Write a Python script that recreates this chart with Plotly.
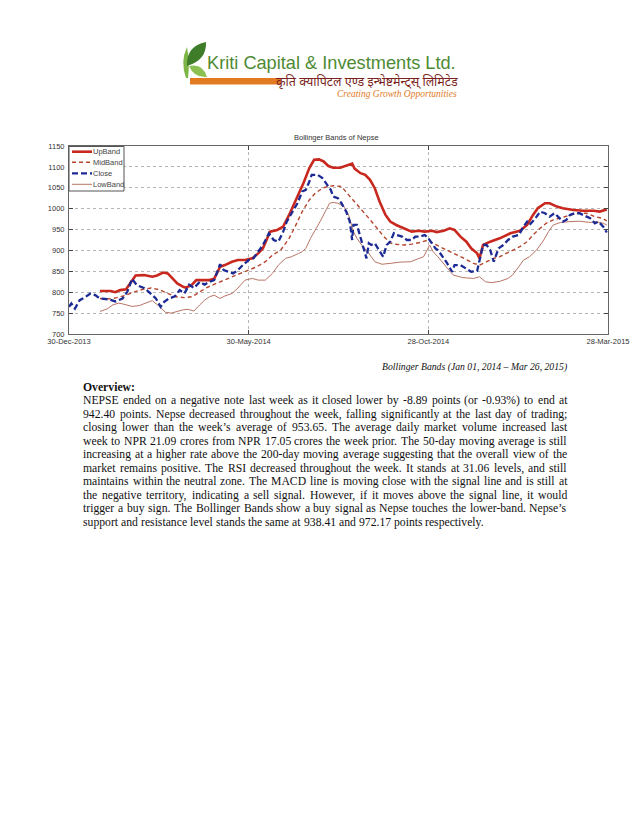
import pandas as pd
import plotly.graph_objects as go

# ---------------- data ----------------
START_DATE = "2013-12-30"

close_day = [0, 2, 5, 7, 9, 14, 18, 22, 26, 33,
             39, 45, 49, 53, 57, 63, 67, 73, 77, 80,
             84, 89, 93, 97, 101, 105, 110, 114, 118, 122,
             127, 130, 134, 138, 142, 146, 151, 155, 159, 163,
             168, 172, 176, 180, 183, 187, 192, 196, 199, 202,
             204, 209, 213, 217, 220, 222, 226, 229, 233, 236,
             238, 239, 242, 246, 250, 252, 254, 257, 261, 264,
             267, 270, 273, 275, 280, 284, 288, 291, 295, 299,
             302, 305, 308, 310, 313, 317, 322, 324, 329, 334,
             338, 343, 345, 348, 351, 354, 357, 361, 365, 369,
             373, 378, 382, 385, 387, 392, 396, 400, 404, 408,
             411, 415, 418, 421, 425, 429, 432, 435, 438, 442,
             445, 449, 452]
close_val = [765, 773, 761, 773, 781, 789, 797, 793, 785, 783,
             778, 785, 801, 832, 817, 810, 801, 785, 765, 777,
             785, 790, 805, 797, 818, 810, 825, 818, 825, 829,
             867, 853, 849, 845, 853, 865, 877, 881, 897, 913,
             941, 925, 921, 945, 969, 989, 1013, 1041, 1045, 1065,
             1081, 1081, 1073, 1057, 1045, 1029, 1025, 1013, 993, 969,
             925, 961, 961, 921, 881, 917, 913, 917, 897, 885,
             913, 921, 941, 937, 933, 925, 925, 933, 933, 937,
             929, 917, 905, 901, 889, 873, 849, 865, 865, 857,
             849, 851, 877, 913, 913, 901, 873, 905, 913, 925,
             933, 937, 957, 969, 961, 977, 993, 989, 981, 989,
             981, 969, 973, 985, 989, 989, 985, 981, 977, 965,
             969, 957, 943]

up_day = [26, 35, 39, 43, 48, 52, 56, 63, 70, 74,
          79, 83, 87, 91, 96, 98, 103, 107, 113, 118,
          122, 127, 131, 137, 142, 148, 154, 159, 163, 169,
          175, 180, 185, 189, 193, 197, 202, 206, 210, 214,
          218, 222, 228, 233, 238, 240, 245, 249, 253, 257,
          261, 266, 270, 275, 281, 288, 294, 299, 305, 309,
          315, 320, 324, 329, 334, 338, 343, 345, 348, 354,
          362, 371, 379, 385, 390, 394, 400, 404, 410, 415,
          424, 432, 441, 446, 452]
up_val = [803, 803, 800, 805, 807, 825, 840, 841, 837, 840,
          847, 845, 833, 821, 813, 811, 817, 829, 829, 829,
          832, 861, 865, 873, 877, 877, 881, 893, 905, 945,
          949, 957, 985, 1009, 1033, 1061, 1097, 1117, 1118, 1113,
          1102, 1098, 1098, 1103, 1108, 1096, 1085, 1081, 1069, 1049,
          1017, 985, 969, 961, 953, 945, 947, 945, 947, 944,
          947, 953, 949, 933, 921, 905, 893, 881, 913, 921,
          929, 941, 947, 961, 985, 1001, 1013, 1013, 1005, 1001,
          997, 995, 995, 993, 998]

mid_day = [26, 35, 40, 48, 55, 62, 69, 76, 83, 90,
           97, 103, 108, 115, 122, 130, 137, 144, 151, 158,
           165, 171, 178, 185, 190, 196, 202, 207, 213, 217,
           222, 229, 235, 240, 246, 252, 259, 264, 270, 274,
           281, 288, 295, 302, 306, 312, 317, 323, 329, 334,
           340, 345, 351, 357, 362, 368, 373, 379, 385, 390,
           396, 401, 407, 413, 418, 427, 435, 442, 448, 452]
mid_val = [785, 784, 787, 793, 801, 807, 810, 806, 797, 789,
           787, 789, 797, 810, 819, 829, 837, 845, 853, 861,
           873, 889, 901, 929, 957, 993, 1021, 1037, 1049, 1053,
           1055, 1053, 1033, 1017, 997, 977, 953, 935, 918, 915,
           913, 915, 919, 925, 917, 909, 901, 894, 886, 878,
           869, 865, 873, 881, 885, 893, 901, 909, 921, 937,
           953, 965, 973, 978, 982, 989, 989, 981, 977, 971]

low_day = [26, 32, 37, 42, 48, 53, 59, 64, 70, 76,
           81, 86, 91, 96, 100, 105, 110, 114, 118, 122,
           127, 131, 137, 142, 148, 154, 159, 165, 171, 176,
           182, 187, 193, 196, 199, 203, 211, 219, 222, 226,
           231, 235, 239, 242, 246, 252, 257, 263, 270, 278,
           287, 294, 298, 301, 303, 306, 310, 317, 323, 331,
           340, 345, 350, 355, 362, 369, 373, 378, 382, 387,
           393, 399, 403, 407, 413, 421, 429, 438, 443, 449,
           452]
low_val = [754, 760, 770, 774, 770, 766, 768, 774, 780, 766,
           752, 750, 754, 758, 759, 755, 770, 781, 789, 793,
           785, 791, 797, 810, 829, 833, 829, 829, 845, 865,
           881, 885, 893, 897, 905, 929, 969, 1013, 1015, 1013,
           1005, 985, 945, 929, 913, 893, 873, 867, 869, 872,
           873, 881, 885, 901, 913, 897, 885, 861, 841, 835,
           833, 837, 825, 823, 826, 833, 842, 861, 877, 885,
           901, 925, 945, 961, 967, 969, 970, 967, 969, 965,
           961]

x_tick_dates = ["2013-12-30", "2014-05-30", "2014-10-28", "2015-03-28"]
x_tick_labels = ["30-Dec-2013", "30-May-2014", "28-Oct-2014", "28-Mar-2015"]
y_tick_vals = [700, 750, 800, 850, 900, 950, 1000, 1050, 1100, 1150]

series_names = ["UpBand", "MidBand", "Close", "LowBand"]

chart_title = "Bollinger Bands of Nepse"
caption = "Bollinger Bands (Jan 01, 2014 \u2013 Mar 26, 2015)"
heading = "Overview:"
body_lines = [
    "NEPSE ended on a negative note last week as it closed lower by -8.89 points (or -0.93%) to end at",
    "942.40 points. Nepse decreased throughout the week, falling significantly at the last day of trading;",
    "closing lower than the week\u2019s average of 953.65. The average daily market volume increased last",
    "week to NPR 21.09 crores from NPR 17.05 crores the week prior. The 50-day moving average is still",
    "increasing at a higher rate above the 200-day moving average suggesting that the overall view of the",
    "market remains positive. The RSI decreased throughout the week. It stands at 31.06 levels, and still",
    "maintains within the neutral zone. The MACD line is moving close with the signal line and is still at",
    "the negative territory, indicating a sell signal. However, if it moves above the signal line, it would",
    "trigger a buy sign. The Bollinger Bands show a buy signal as Nepse touches the lower-band. Nepse\u2019s",
    "support and resistance level stands the same at 938.41 and 972.17 points respectively.",
]
logo_name = "Kriti Capital & Investments Ltd."
logo_hindi = "\u0915\u0943\u0924\u093f \u0915\u094d\u092f\u093e\u092a\u093f\u091f\u0932 \u090f\u0923\u094d\u0921 \u0907\u0928\u094d\u092d\u0947\u0937\u094d\u091f\u092e\u0947\u0928\u094d\u091f\u094d\u0938\u094d \u0932\u093f\u092e\u093f\u091f\u0947\u0921"
logo_tagline = "Creating Growth Opportunities"

# ---------------- helpers ----------------
# the page body has an 8px margin, so the figure starts at (8, 8) of the window
OFF = 8
W, H = 638 - 2 * OFF, 826 - 2 * OFF
PL, PR, PT, PB = 69, 608, 146, 334   # plot area in window pixels


def fx(x):
    return (x - PL) / (PR - PL)


def fy(y):
    return (PB - y) / (PB - PT)


def to_dates(days):
    return pd.Timestamp(START_DATE) + pd.to_timedelta(days, unit="D")


UP_C, MID_C, CLOSE_C, LOW_C = "#c8281e", "#b5452d", "#1c2a94", "#b87566"

fig = go.Figure()
fig.add_trace(go.Scatter(x=to_dates(low_day), y=low_val, mode="lines", name=series_names[3],
                         line=dict(color=LOW_C, width=1)))
fig.add_trace(go.Scatter(x=to_dates(mid_day), y=mid_val, mode="lines", name=series_names[1],
                         line=dict(color=MID_C, width=1.4, dash="4px,3px")))
fig.add_trace(go.Scatter(x=to_dates(up_day), y=up_val, mode="lines", name=series_names[0],
                         line=dict(color=UP_C, width=2.6)))
fig.add_trace(go.Scatter(x=to_dates(close_day), y=close_val, mode="lines", name=series_names[2],
                         line=dict(color=CLOSE_C, width=2.3, dash="6px,3px")))

shapes = []
annotations = []

# ---- manual legend (Matlab style) ----
shapes.append(dict(type="rect", xref="paper", yref="paper", x0=fx(69), x1=fx(124), y0=fy(191), y1=fy(146.5),
                   line=dict(color="#555", width=1), fillcolor="white", layer="above"))
leg_y = [151.7, 162.3, 173.3, 184.3]
leg_style = [dict(color=UP_C, width=2.6), dict(color=MID_C, width=1.4, dash="4px,3px"),
             dict(color=CLOSE_C, width=2.3, dash="6px,3px"), dict(color=LOW_C, width=1)]
for name, yy, st in zip(series_names, leg_y, leg_style):
    shapes.append(dict(type="line", xref="paper", yref="paper", x0=fx(72), x1=fx(92), y0=fy(yy), y1=fy(yy),
                       line=st, layer="above"))
    annotations.append(dict(xref="paper", yref="paper", x=fx(93), y=fy(yy), text=name, showarrow=False,
                            xanchor="left", yanchor="middle", borderpad=0, borderwidth=0,
                            font=dict(family="Liberation Sans", size=7.5, color="#444")))

# ---- chart title ----
annotations.append(dict(xref="paper", yref="paper", x=fx(336), y=fy(137.5), text=chart_title, showarrow=False,
                        xanchor="center", yanchor="middle", borderpad=0, borderwidth=0,
                        font=dict(family="Liberation Sans", size=7.5, color="#333")))

# ---- logo ----
def path_px(cmds):
    out = []
    for c in cmds:
        if isinstance(c, str):
            out.append(c)
        else:
            out.append(f"{fx(c[0]):.5f},{fy(c[1]):.5f}")
    return " ".join(out)


shapes.append(dict(type="rect", xref="paper", yref="paper", x0=fx(190), x1=fx(281), y0=fy(84.5), y1=fy(78),
                   line=dict(width=0), fillcolor="#e27a22"))
shapes.append(dict(type="path", xref="paper", yref="paper",
                   path=path_px(["M", (186, 78), "Q", (180, 62), (187, 47), "Q", (190, 62), (188, 78), "Z"]),
                   line=dict(width=0), fillcolor="#7db646"))
shapes.append(dict(type="path", xref="paper", yref="paper",
                   path=path_px(["M", (187, 66), "Q", (186, 46), (206, 42), "Q", (207, 60), (187, 66), "Z"]),
                   line=dict(width=0), fillcolor="#3f7d2a"))
shapes.append(dict(type="path", xref="paper", yref="paper",
                   path=path_px(["M", (189, 66), "Q", (203, 63), (207, 77), "Q", (194, 78), (189, 66), "Z"]),
                   line=dict(width=0), fillcolor="#8cc152"))
annotations.append(dict(xref="paper", yref="paper", x=fx(207), y=fy(63), text=logo_name, showarrow=False,
                        xanchor="left", yanchor="middle", borderpad=0, borderwidth=0,
                        font=dict(family="Liberation Sans", size=18.2, color="#4e8a33")))
annotations.append(dict(xref="paper", yref="paper", x=fx(458), y=fy(81), text=logo_hindi, showarrow=False,
                        xanchor="right", yanchor="middle", borderpad=0, borderwidth=0,
                        font=dict(family="Noto Sans", size=12.5, color="#7a1f1a")))
annotations.append(dict(xref="paper", yref="paper", x=fx(457), y=fy(94.5), text="<i>" + logo_tagline + "</i>",
                        showarrow=False, xanchor="right", yanchor="middle", borderpad=0, borderwidth=0,
                        font=dict(family="Liberation Serif", size=9.5, color="#e07b27")))

# ---- caption and text ----
annotations.append(dict(xref="paper", yref="paper", x=fx(567), y=fy(367), text="<i>" + caption + "</i>",
                        showarrow=False, xanchor="right", yanchor="middle", borderpad=0, borderwidth=0,
                        font=dict(family="Liberation Serif", size=9.7, color="#111")))
annotations.append(dict(xref="paper", yref="paper", x=fx(83.3), y=fy(387.5), text="<b>" + heading + "</b>",
                        showarrow=False, xanchor="left", yanchor="middle", borderpad=0, borderwidth=0,
                        font=dict(family="Liberation Serif", size=11.7, color="#111")))

TW = {" ": 250, ".": 250, ",": 250, ";": 278, ":": 278, "-": 333, "(": 333, ")": 333, "%": 833,
      "\u2019": 333, "'": 333}
for ch, w in zip("ABCDEFGHIJKLMNOPQRSTUVWXYZ",
                 [722, 667, 667, 722, 611, 556, 722, 722, 333, 389, 722, 611, 889, 722, 722, 556, 722, 667,
                  556, 611, 722, 722, 944, 722, 722, 611]):
    TW[ch] = w
for ch, w in zip("abcdefghijklmnopqrstuvwxyz",
                 [444, 500, 444, 500, 444, 333, 500, 500, 278, 278, 500, 278, 778, 500, 500, 500, 500, 333,
                  389, 278, 500, 500, 722, 500, 500, 444]):
    TW[ch] = w
for ch in "0123456789":
    TW[ch] = 500

BODY_SIZE = 11.7
TXT_L, TXT_R = 83.3, 567.0


def text_w(s):
    return sum(TW.get(c, 500) for c in s) * BODY_SIZE / 1000.0


for i, line in enumerate(body_lines):
    yy = 400.5 + 13.5 * i
    words = line.split(" ")
    widths = [text_w(w) for w in words]
    if i < len(body_lines) - 1:
        gap = (TXT_R - TXT_L - sum(widths)) / (len(words) - 1)
    else:
        gap = text_w(" ")
    xx = TXT_L
    for w, wd in zip(words, widths):
        annotations.append(dict(xref="paper", yref="paper", x=fx(xx), y=fy(yy), text=w, showarrow=False,
                                xanchor="left", yanchor="middle", borderpad=0, borderwidth=0,
                                font=dict(family="Liberation Serif", size=BODY_SIZE, color="#111")))
        xx += wd + gap

fig.update_layout(
    width=W, height=H, autosize=False,
    margin=dict(l=PL - OFF, r=(W + OFF) - PR, t=PT - OFF, b=(H + OFF) - PB, pad=0, autoexpand=False),
    paper_bgcolor="white", plot_bgcolor="white",
    showlegend=False,
    shapes=shapes, annotations=annotations,
    font=dict(family="Liberation Sans", size=8, color="#333"),
)
fig.update_xaxes(
    type="date", range=[x_tick_dates[0], x_tick_dates[-1]], automargin=False,
    tickmode="array", tickvals=x_tick_dates, ticktext=x_tick_labels,
    showgrid=True, gridcolor="#b5b5b5", griddash="dot", gridwidth=1,
    showline=True, linecolor="#666", linewidth=1, mirror="ticks",
    ticks="inside", ticklen=4, tickcolor="#444", zeroline=False,
    tickfont=dict(family="Liberation Sans", size=7.5, color="#333"),
)
fig.update_yaxes(
    range=[700, 1150], tickmode="array", tickvals=y_tick_vals, automargin=False,
    showgrid=True, gridcolor="#b5b5b5", griddash="dot", gridwidth=1,
    showline=True, linecolor="#666", linewidth=1, mirror="ticks",
    ticks="inside", ticklen=4, tickcolor="#444", zeroline=False, ticklabelstandoff=2,
    tickfont=dict(family="Liberation Sans", size=7.5, color="#333"),
)

fig.write_html("out.html")
